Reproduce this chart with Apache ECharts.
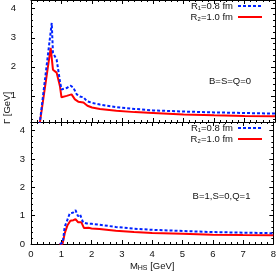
<!DOCTYPE html>
<html>
<head>
<meta charset="utf-8">
<script src="https://cdn.jsdelivr.net/npm/echarts@6/dist/echarts.min.js"></script>
<style>html,body{margin:0;padding:0;background:#fff}#c{width:279px;height:273px}</style>
</head>
<body>
<div id="c"></div>
<script>
// ---- data (x = M_HS [GeV], y = Gamma [GeV]) ----
const upperBlueX = [0.28, 0.68, 0.72, 0.84, 0.95, 1.0, 1.17, 1.3, 1.39, 1.5, 1.6, 1.72, 1.83, 2.0, 2.26, 2.8, 3.4, 4.0, 5.0, 6.0, 7.0, 8.0];
const upperBlueY = [0.0, 3.51, 2.48, 2.25, 1.5, 1.22, 1.27, 1.35, 1.28, 1.05, 0.98, 0.95, 0.82, 0.76, 0.70, 0.61, 0.55, 0.50, 0.46, 0.43, 0.41, 0.39];
const upperRedX = [0.28, 0.645, 0.72, 0.84, 0.95, 1.0, 1.17, 1.33, 1.44, 1.55, 1.72, 1.85, 2.0, 2.26, 2.8, 3.4, 4.0, 5.0, 6.0, 7.0, 8.0];
const upperRedY = [0.0, 2.65, 1.9, 1.8, 1.33, 0.95, 1.0, 1.05, 0.88, 0.8, 0.77, 0.66, 0.6, 0.55, 0.49, 0.44, 0.41, 0.36, 0.33, 0.31, 0.30];
const lowerBlueX = [0.95, 1.05, 1.11, 1.2, 1.28, 1.38, 1.47, 1.55, 1.62, 1.72, 1.85, 2.0, 2.26, 2.8, 3.4, 4.0, 5.0, 6.0, 7.0, 8.0];
const lowerBlueY = [0.0, 0.05, 0.6, 0.85, 1.08, 1.1, 1.19, 0.98, 1.04, 0.76, 0.72, 0.71, 0.68, 0.6, 0.54, 0.5, 0.46, 0.42, 0.4, 0.38];
const lowerRedX = [0.94, 1.04, 1.12, 1.2, 1.3, 1.4, 1.47, 1.55, 1.66, 1.75, 1.9, 2.0, 2.26, 2.8, 3.4, 4.0, 5.0, 6.0, 7.0, 8.0];
const lowerRedY = [0.0, 0.0, 0.4, 0.65, 0.82, 0.84, 0.88, 0.77, 0.77, 0.56, 0.57, 0.55, 0.53, 0.47, 0.42, 0.39, 0.36, 0.33, 0.315, 0.305];
const seriesNames = ['R\u2081=0.8 fm', 'R\u2082=1.0 fm'];
const panelLabels = ['B=S=Q=0', 'B=1,S=0,Q=1'];
const xTicks = [0, 1, 2, 3, 4, 5, 6, 7, 8];
const upperYTicks = [1, 2, 3, 4];
const lowerYTicks = [0, 1, 2, 3, 4];

const zip = (xs, ys) => xs.map((x, i) => [x, ys[i]]);
const FONT = 'Liberation Sans, Arial, sans-serif';
const AX = '#000';
function minorVals(lo, hi) {
  const out = [];
  for (let i = Math.round(lo * 5); i <= Math.round(hi * 5); i++) {
    if (i % 5 !== 0) out.push(i / 5);
  }
  return out;
}
function xAx(grid, pos, labels) {
  return {
    type: 'value', gridIndex: grid, position: pos, min: xTicks[0], max: xTicks[xTicks.length - 1], interval: 1,
    axisLine: {show: true, onZero: false, lineStyle: {color: AX, width: 1}},
    axisTick: {show: true, inside: true, length: 4, lineStyle: {color: AX}},
    minorTick: {show: true, splitNumber: 5, length: 2, lineStyle: {color: AX}},
    splitLine: {show: false},
    axisLabel: {show: labels, margin: 5, color: '#111', fontSize: 9.5, fontFamily: FONT},
    name: labels ? '{a|M}{b|HS}{a| [GeV]}' : '',
    nameLocation: 'middle', nameGap: 16,
    nameTextStyle: {rich: {
      a: {fontSize: 9.5, fontFamily: FONT, color: '#111'},
      b: {fontSize: 7, fontFamily: FONT, color: '#111', padding: [5, 0, 0, 0]}
    }}
  };
}
function yAx(grid, pos, min, major, labels, margin, minor) {
  const vals = minor ? minorVals(min, 4.3) : major;
  return {
    type: 'value', gridIndex: grid, position: pos, min: min, max: 4.3,
    axisLine: {show: true, onZero: false, lineStyle: {color: AX, width: 1}},
    axisTick: {show: true, inside: true, length: minor ? 2 : 4, customValues: vals, lineStyle: {color: AX}},
    splitLine: {show: false},
    axisLabel: {show: labels, customValues: major, margin: margin, color: '#111', fontSize: 9.5, fontFamily: FONT}
  };
}
const chart = echarts.init(document.getElementById('c'), null, {renderer: 'canvas'});
const lineBase = {type: 'line', showSymbol: false, symbol: 'none', clip: true, animation: false};
const blueStyle = {color: '#0022ff', width: 2, type: [3, 2]};
const redStyle = {color: '#ff0000', width: 2, type: 'solid'};
chart.setOption({
  animation: false,
  grid: [
    {left: 31, top: 0, width: 244, height: 122},
    {left: 31, top: 122, width: 244, height: 122.5}
  ],
  xAxis: [xAx(0, 'bottom', false), xAx(0, 'top', false), xAx(1, 'bottom', true), xAx(1, 'top', false)],
  yAxis: [
    yAx(0, 'left', 0.1, upperYTicks, true, 15, false),
    yAx(0, 'left', 0.1, upperYTicks, false, 0, true),
    yAx(0, 'right', 0.1, upperYTicks, false, 0, false),
    yAx(0, 'right', 0.1, upperYTicks, false, 0, true),
    yAx(1, 'left', 0, lowerYTicks, true, 6, false),
    yAx(1, 'left', 0, lowerYTicks, false, 0, true),
    yAx(1, 'right', 0, lowerYTicks, false, 0, false),
    yAx(1, 'right', 0, lowerYTicks, false, 0, true)
  ],
  legend: [0, 1].map(i => ({
    data: seriesNames, orient: 'vertical', align: 'right',
    right: 16, top: i === 0 ? 1 : 123, itemGap: 1, itemWidth: 24, itemHeight: 9,
    padding: 0, selectedMode: false,
    itemStyle: {opacity: 0},
    textStyle: {fontSize: 9.5, fontFamily: FONT, color: '#111'}
  })),
  graphic: [
    {type: 'text', x: 7, y: 108, rotation: Math.PI / 2, style: {text: '\u0393 [GeV]', fontSize: 9.5, fontFamily: FONT, fill: '#111', align: 'center', verticalAlign: 'middle'}},
    {type: 'text', x: 230, y: 81, style: {text: panelLabels[0], fontSize: 9.5, fontFamily: FONT, fill: '#111', align: 'center', verticalAlign: 'middle'}},
    {type: 'text', x: 221.5, y: 196, style: {text: panelLabels[1], fontSize: 9.5, fontFamily: FONT, fill: '#111', align: 'center', verticalAlign: 'middle'}}
  ],
  series: [
    Object.assign({}, lineBase, {name: seriesNames[0], xAxisIndex: 0, yAxisIndex: 0, data: zip(upperBlueX, upperBlueY), lineStyle: blueStyle, itemStyle: {color: blueStyle.color}, z: 3}),
    Object.assign({}, lineBase, {name: seriesNames[1], xAxisIndex: 0, yAxisIndex: 0, data: zip(upperRedX, upperRedY), lineStyle: redStyle, itemStyle: {color: redStyle.color}, z: 2}),
    Object.assign({}, lineBase, {name: seriesNames[0], xAxisIndex: 2, yAxisIndex: 4, data: zip(lowerBlueX, lowerBlueY), lineStyle: blueStyle, itemStyle: {color: blueStyle.color}, z: 3}),
    Object.assign({}, lineBase, {name: seriesNames[1], xAxisIndex: 2, yAxisIndex: 4, data: zip(lowerRedX, lowerRedY), lineStyle: redStyle, itemStyle: {color: redStyle.color}, z: 2})
  ]
});
</script>
</body>
</html>
